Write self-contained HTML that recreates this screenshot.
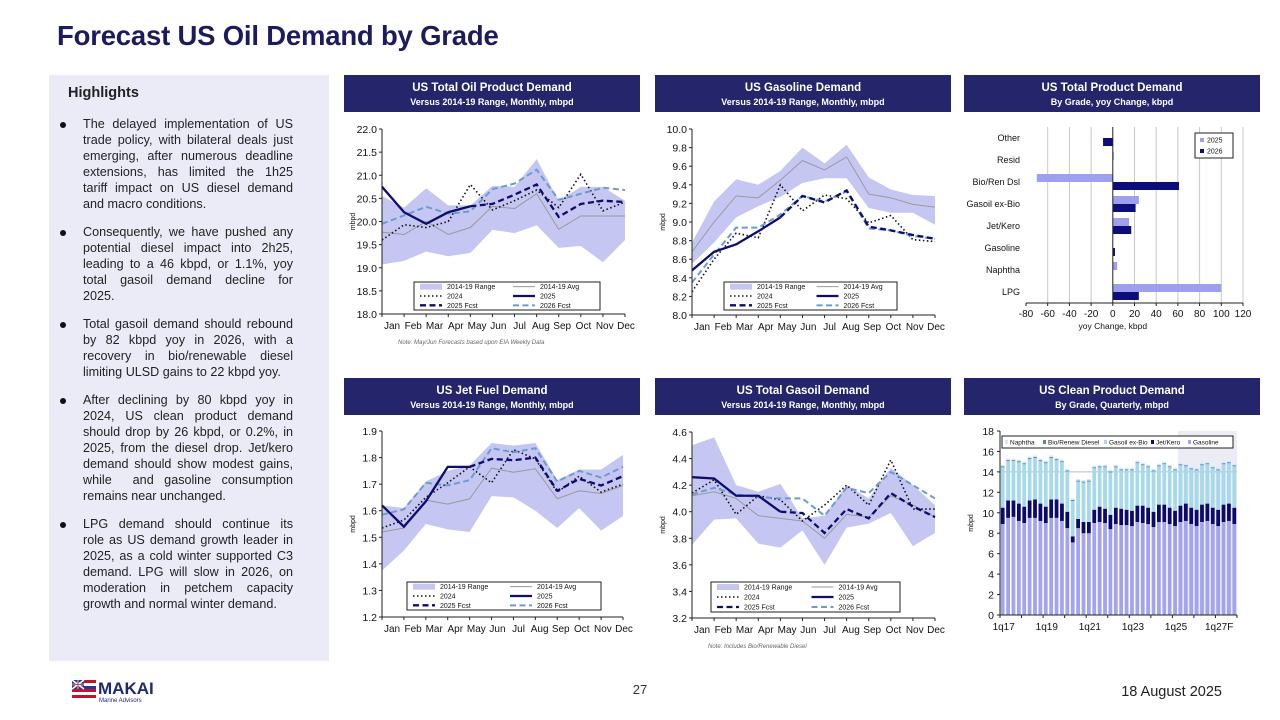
<!DOCTYPE html>
<html><head><meta charset="utf-8">
<style>
*{margin:0;padding:0;box-sizing:border-box}
body{width:1280px;height:720px;background:#fff;position:relative;overflow:hidden;font-family:"Liberation Sans",sans-serif}
#title{position:absolute;left:57px;top:20px;font-size:27.5px;font-weight:bold;color:#1c1c5c;letter-spacing:-0.2px}
#panel{position:absolute;left:49px;top:75px;width:280px;height:586px;background:#ebebf7}
#panel h3{position:absolute;left:19px;top:10px;font-size:14.5px;font-weight:bold;color:#222}
.para{position:absolute;left:34px;width:210px;font-size:12.6px;line-height:16px;color:#222}
.para span{display:block;text-align:justify;text-align-last:justify;white-space:nowrap;overflow:visible}
.para span.l{text-align-last:left}
.para:before{content:"";position:absolute;left:-23px;top:6px;width:6px;height:6px;border-radius:50%;background:#111}
.hdr{position:absolute;width:296px;height:37px;background:#25256b;color:#fff;text-align:center}
.hdr .t{font-size:11.5px;font-weight:bold;margin-top:7px}
.hdr .s{font-size:9px;font-weight:bold;margin-top:3px}
#svg{position:absolute;left:0;top:0}
</style></head><body>
<div id="title">Forecast US Oil Demand by Grade</div>
<div id="panel">
<h3>Highlights</h3>
<div class="para" style="top:41px"><span>The delayed implementation of US</span><span>trade policy, with bilateral deals just</span><span>emerging, after numerous deadline</span><span>extensions, has limited the 1h25</span><span>tariff impact on US diesel demand</span><span class="l">and macro conditions.</span></div>
<div class="para" style="top:149px"><span>Consequently, we have pushed any</span><span>potential diesel impact into 2h25,</span><span>leading to a 46 kbpd, or 1.1%, yoy</span><span>total gasoil demand decline for</span><span class="l">2025.</span></div>
<div class="para" style="top:241px"><span>Total gasoil demand should rebound</span><span>by 82 kbpd yoy in 2026, with a</span><span>recovery in bio/renewable diesel</span><span class="l">limiting ULSD gains to 22 kbpd yoy.</span></div>
<div class="para" style="top:317px"><span>After declining by 80 kbpd yoy in</span><span>2024, US clean product demand</span><span>should drop by 26 kbpd, or 0.2%, in</span><span>2025, from the diesel drop. Jet/kero</span><span>demand should show modest gains,</span><span>while &nbsp;and gasoline consumption</span><span class="l">remains near unchanged.</span></div>
<div class="para" style="top:441px"><span>LPG demand should continue its</span><span>role as US demand growth leader in</span><span>2025, as a cold winter supported C3</span><span>demand. LPG will slow in 2026, on</span><span>moderation in petchem capacity</span><span class="l">growth and normal winter demand.</span></div>
</div>

<div class="hdr" style="left:344px;top:75px"><div class="t">US Total Oil Product Demand</div><div class="s">Versus 2014-19 Range, Monthly, mbpd</div></div>
<div class="hdr" style="left:655px;top:75px"><div class="t">US Gasoline Demand</div><div class="s">Versus 2014-19 Range, Monthly, mbpd</div></div>
<div class="hdr" style="left:964px;top:75px"><div class="t">US Total Product Demand</div><div class="s">By Grade, yoy Change, kbpd</div></div>
<div class="hdr" style="left:344px;top:378px"><div class="t">US Jet Fuel Demand</div><div class="s">Versus 2014-19 Range, Monthly, mbpd</div></div>
<div class="hdr" style="left:655px;top:378px"><div class="t">US Total Gasoil Demand</div><div class="s">Versus 2014-19 Range, Monthly, mbpd</div></div>
<div class="hdr" style="left:964px;top:378px"><div class="t">US Clean Product Demand</div><div class="s">By Grade, Quarterly, mbpd</div></div>

<svg id="svg" width="1280" height="720" xmlns="http://www.w3.org/2000/svg">
<g>
<rect x="72" y="680" width="24" height="3" fill="#c8102e"/><rect x="72" y="683" width="24" height="3" fill="#fff"/>
<rect x="72" y="686" width="24" height="3" fill="#1f3a93"/><rect x="72" y="689" width="24" height="3" fill="#c8102e"/>
<rect x="72" y="692" width="24" height="3" fill="#fff"/><rect x="72" y="695" width="24" height="3" fill="#c8102e"/>
<rect x="72" y="680" width="12" height="9" fill="#1f3a93"/><path d="M72 680L84 689M84 680L72 689M78 680V689M72 684.5H84" stroke="#fff" stroke-width="1.5"/><path d="M78 680V689M72 684.5H84" stroke="#c8102e" stroke-width="0.8"/>
<text x="98" y="694" font-size="17" font-weight="bold" fill="#1f2a6e" font-family="Liberation Sans, sans-serif">MAKAI</text>
<text x="99" y="702" font-size="6" fill="#1f2a6e" font-family="Liberation Sans, sans-serif">Marine Advisors</text>
</g>
<text x="640" y="694" font-size="13" text-anchor="middle" fill="#333" font-family="Liberation Sans, sans-serif">27</text>
<text x="1222" y="696" font-size="14.5" text-anchor="end" fill="#222" font-family="Liberation Sans, sans-serif">18 August 2025</text>
</svg>

<script>
// ---------- data ----------
const months = ["Jan","Feb","Mar","Apr","May","Jun","Jul","Aug","Sep","Oct","Nov","Dec"];
const legendLabels = ["2014-19 Range","2014-19 Avg","2024","2025","2025 Fcst","2026 Fcst"];

const totLow  = [19.07,19.15,19.35,19.25,19.32,19.82,19.75,19.92,19.43,19.47,19.12,19.6];
const totHigh = [20.55,20.3,20.72,20.35,20.35,20.77,20.75,21.35,20.45,20.75,20.75,20.45];
const totAvg  = [19.77,19.72,20.0,19.72,19.87,20.33,20.28,20.6,19.83,20.12,20.12,20.12];
const tot2024 = [19.6,19.93,19.87,20.0,20.8,20.25,20.45,20.68,20.3,21.02,20.23,20.42];
const tot2025 = [20.75,20.2,19.95,20.2,20.33,null,null,null,null,null,null,null];
const tot25F  = [null,null,null,null,20.33,20.38,20.58,20.8,20.1,20.38,20.45,20.42];
const tot26F  = [19.95,20.13,20.32,20.17,20.22,20.7,20.82,21.12,20.47,20.6,20.73,20.68];

const gasLow  = [8.55,8.78,9.05,9.17,9.27,9.42,9.47,9.47,9.15,9.1,9.1,8.97];
const gasHigh = [8.78,9.22,9.46,9.4,9.55,9.8,9.63,9.83,9.48,9.35,9.29,9.28];
const gasAvg  = [8.68,9.0,9.28,9.26,9.45,9.66,9.56,9.7,9.3,9.26,9.19,9.16];
const gas2024 = [8.25,8.6,8.88,8.83,9.4,9.12,9.29,9.25,8.99,9.07,8.81,8.79];
const gas2025 = [8.48,8.68,8.76,8.9,9.05,null,null,null,null,null,null,null];
const gas25F  = [null,null,null,null,9.05,9.28,9.21,9.34,8.95,8.91,8.86,8.82];
const gas26F  = [8.35,8.65,8.94,8.94,9.08,9.28,9.22,9.33,8.93,8.91,8.85,8.82];

const jetLow  = [1.375,1.45,1.55,1.53,1.52,1.655,1.65,1.6,1.535,1.61,1.525,1.58];
const jetHigh = [1.62,1.61,1.71,1.75,1.77,1.855,1.845,1.855,1.715,1.755,1.755,1.81];
const jetAvg  = [1.52,1.535,1.64,1.625,1.645,1.76,1.745,1.758,1.645,1.675,1.665,1.695];
const jet2024 = [1.535,1.565,1.65,1.705,1.765,1.705,1.83,1.795,1.67,1.73,1.67,1.7];
const jet2025 = [1.62,1.54,1.635,1.765,1.765,null,null,null,null,null,null,null];
const jet25F  = [null,null,null,null,1.765,1.795,1.79,1.8,1.675,1.72,1.695,1.73];
const jet26F  = [1.585,1.605,1.705,1.695,1.715,1.835,1.82,1.835,1.71,1.75,1.725,1.765];

const goLow  = [3.75,3.94,3.95,3.76,3.73,3.86,3.6,3.88,3.91,3.99,3.74,3.84];
const goHigh = [4.5,4.56,4.2,4.15,4.21,3.95,3.97,4.2,4.1,4.33,4.2,4.05];
const goAvg  = [4.12,4.15,4.1,3.97,3.95,3.93,3.8,3.98,3.96,4.12,4.05,3.96];
const go2024 = [4.14,4.24,3.98,4.12,4.09,3.93,4.05,4.2,4.05,4.39,4.02,4.02];
const go2025 = [4.26,4.25,4.12,4.12,4.0,null,null,null,null,null,null,null];
const go25F  = [null,null,null,null,4.0,3.99,3.84,4.02,3.95,4.14,4.04,3.96];
const go26F  = [4.13,4.18,4.13,4.11,4.1,4.1,3.97,4.18,4.14,4.3,4.2,4.1];

const gradeCats = ["Other","Resid","Bio/Ren Dsl","Gasoil ex-Bio","Jet/Kero","Gasoline","Naphtha","LPG"];
const grade2025 = [0,1,-70,24,15,0,4,100];
const grade2026 = [-9,0,61,21,17,2,0,24];
const gradeTicks = [-80,-60,-40,-20,0,20,40,60,80,100,120];

const quarterLabels = ["1q17","1q19","1q21","1q23","1q25","1q27F"];
const qGasoline = [8.9,9.5,9.6,9.2, 9.0,9.5,9.5,9.2, 9.0,9.5,9.5,9.2, 8.5,7.1,8.5,8.0, 8.0,9.0,9.1,9.0, 8.4,8.9,8.8,8.8, 8.7,9.1,9.0,8.9, 8.6,9.1,9.1,8.9, 8.7,9.1,9.2,8.9, 8.7,9.1,9.2,8.9, 8.7,9.1,9.2,8.9];
const qJet      = [1.6,1.7,1.6,1.7, 1.6,1.7,1.8,1.7, 1.6,1.8,1.8,1.7, 1.6,0.6,0.9,1.1, 1.1,1.3,1.5,1.4, 1.4,1.6,1.6,1.5, 1.5,1.6,1.7,1.6, 1.5,1.7,1.7,1.6, 1.5,1.6,1.7,1.6, 1.6,1.7,1.7,1.6, 1.6,1.7,1.7,1.6];
const qGasoil   = [3.95,3.85,3.85,4.05, 4.15,4.05,4.05,4.15, 4.25,4.05,3.85,4.05, 3.95,3.45,3.65,3.85, 3.95,4.05,3.85,4.05, 4.15,3.95,3.75,3.85, 3.95,4.15,3.95,3.95, 3.95,3.75,3.95,3.95, 3.95,3.95,3.65,3.75, 3.85,3.85,3.85,3.85, 3.85,3.95,3.95,4.05];
const qBio      = [0.1,0.1,0.1,0.1, 0.1,0.1,0.1,0.1, 0.1,0.1,0.1,0.1, 0.1,0.1,0.1,0.1, 0.1,0.1,0.1,0.1, 0.1,0.1,0.1,0.1, 0.1,0.1,0.1,0.1, 0.1,0.1,0.1,0.1, 0.1,0.1,0.1,0.1, 0.1,0.1,0.1,0.1, 0.1,0.1,0.1,0.1];
const qNaphtha  = [0.15,0.15,0.15,0.15, 0.15,0.15,0.15,0.15, 0.15,0.15,0.15,0.15, 0.15,0.15,0.15,0.15, 0.15,0.15,0.15,0.15, 0.15,0.15,0.15,0.15, 0.15,0.15,0.15,0.15, 0.15,0.15,0.15,0.15, 0.15,0.15,0.15,0.15, 0.15,0.15,0.15,0.15, 0.15,0.15,0.15,0.15];
const qTicks = [0,2,4,6,8,10,12,14,16,18];

// ---------- helpers ----------
const NS = "http://www.w3.org/2000/svg";
const svg = document.getElementById("svg");
const FONT = "Liberation Sans, sans-serif";
function mk(parent, tag, attrs){
  const e = document.createElementNS(NS, tag);
  for (const k in attrs) e.setAttribute(k, attrs[k]);
  parent.appendChild(e);
  return e;
}
function txt(parent, x, y, s, size, anchor, extra){
  const t = mk(parent, "text", Object.assign({x:x, y:y, "font-size":size, "text-anchor":anchor||"start", fill:"#111", "font-family":FONT}, extra||{}));
  t.textContent = s;
  return t;
}

const styles = {
  avg:{stroke:"#9a9a9a", "stroke-width":1},
  y24:{stroke:"#111", "stroke-width":1.6, "stroke-dasharray":"1.5,2.5"},
  y25:{stroke:"#0d0d6e", "stroke-width":2.3},
  f25:{stroke:"#0d0d6e", "stroke-width":2.3, "stroke-dasharray":"6,3.5"},
  f26:{stroke:"#6b9bd2", "stroke-width":2, "stroke-dasharray":"6,3.5"}
};

function lineChart(c){
  const g = mk(svg, "g", {});
  
  
  const n = months.length;
  const xs = i => c.x0 + i*(c.x1-c.x0)/(n-1);
  const ys = v => c.yb - (v-c.min)/(c.max-c.min)*(c.yb-c.yt);
  let d = "";
  c.low.forEach((v,i)=>{ d += (i?"L":"M") + xs(i) + " " + ys(c.high[i]); });
  for (let i=n-1;i>=0;i--) d += "L" + xs(i) + " " + ys(c.low[i]);
  const band = mk(g, "path", {d:d+"Z", fill:"#c6c6f3"});
  
  
  const series = [["avg",c.avg,"avg-line-2014-19"],["y24",c.y24,"line-2024"],["f26",c.f26,"line-2026-fcst"],["f25",c.f25,"line-2025-fcst"],["y25",c.y25,"line-2025"]];
  series.forEach(s=>{
    let p = "", started = false;
    s[1].forEach((v,i)=>{ if (v===null) return; p += (started?"L":"M") + xs(i) + " " + ys(v); started = true; });
    const l = mk(g, "path", Object.assign({d:p, fill:"none"}, styles[s[0]]));
    
    
  });
  const ax = mk(g, "path", {d:`M${c.x0} ${c.yt}V${c.yb}H${c.x1}`, stroke:"#222", "stroke-width":1, fill:"none"});
  
  
  for (let v=c.min; v<=c.max+1e-9; v+=c.step){
    mk(g, "line", {x1:c.x0-3, x2:c.x0, y1:ys(v), y2:ys(v), stroke:"#222"});
    const t = txt(g, c.x0-5, ys(v)+4, v.toFixed(1), 10.5, "end");
    
    
  }
  months.forEach((m,i)=>{
    mk(g, "line", {x1:xs(i), x2:xs(i), y1:c.yb, y2:c.yb+3, stroke:"#222"});
    const lx = c.x0 + 10 + i*(c.x1-c.x0-9)/(n-1);
    const t = txt(g, lx, c.yb+15, m, 10, "middle");
    
    
  });
  const yl = txt(g, 0, 0, "mbpd", 7, "middle", {transform:`translate(${c.x0-27},${(c.yt+c.yb)/2}) rotate(-90)`});
  
  
  if (c.note){
    const nt = txt(g, c.x0+16, c.yb+30, c.note, 6, "start", {"font-style":"italic", fill:"#666"});
    
    
  }
  const L = c.leg;
  const lg = mk(g, "g", {});
  
  
  mk(lg, "rect", {x:L[0], y:L[1], width:L[2]-L[0], height:L[3]-L[1], fill:"#fff", stroke:"#222", "stroke-width":1});
  const keys = ["band","avg","y24","y25","f25","f26"];
  const half = (L[2]-L[0])/2, rh = (L[3]-L[1])/3;
  keys.forEach((k,i)=>{
    const col = i%2, row = Math.floor(i/2);
    const sx = L[0] + 6 + col*half, sy = L[1] + rh*(row+0.5);
    if (k==="band") mk(lg, "rect", {x:sx, y:sy-3, width:22, height:6, fill:"#c6c6f3"});
    else mk(lg, "line", Object.assign({x1:sx, x2:sx+22, y1:sy, y2:sy}, styles[k]));
    const t = txt(lg, sx+27, sy+2.5, legendLabels[i], 7, "start");
    
    
  });
}

lineChart({name:"chart-total-oil", x0:382, x1:625, yt:129, yb:314, min:18, max:22, step:0.5,
  low:totLow, high:totHigh, avg:totAvg, y24:tot2024, y25:tot2025, f25:tot25F, f26:tot26F,
  leg:[414,282,600,310], note:"Note: May/Jun Forecasts based upon EIA Weekly Data"});
lineChart({name:"chart-gasoline", x0:692, x1:935, yt:129, yb:315, min:8, max:10, step:0.2,
  low:gasLow, high:gasHigh, avg:gasAvg, y24:gas2024, y25:gas2025, f25:gas25F, f26:gas26F,
  leg:[724,282,897,310]});
lineChart({name:"chart-jet-fuel", x0:382, x1:623, yt:431, yb:617, min:1.2, max:1.9, step:0.1,
  low:jetLow, high:jetHigh, avg:jetAvg, y24:jet2024, y25:jet2025, f25:jet25F, f26:jet26F,
  leg:[407,582,601,610]});
lineChart({name:"chart-gasoil", x0:692, x1:935, yt:432, yb:618, min:3.2, max:4.6, step:0.2,
  low:goLow, high:goHigh, avg:goAvg, y24:go2024, y25:go2025, f25:go25F, f26:go26F,
  leg:[711,582,900,612], note:"Note: Includes Bio/Renewable Diesel"});

// ---------- horizontal bar chart ----------
(function(){
  const g = mk(svg, "g", {});
  
  
  const x0 = 1026, x1 = 1243, yt = 127, yb = 303, mn = -80, mx = 120;
  const xs = v => x0 + (v-mn)/(mx-mn)*(x1-x0);
  const slot = (yb-yt)/gradeCats.length;
  gradeTicks.forEach(v=>{
    if (v!==0 && v!==mn) mk(g, "line", {x1:xs(v), x2:xs(v), y1:yt, y2:yb, stroke:"#c8c8c8"});
    mk(g, "line", {x1:xs(v), x2:xs(v), y1:yb, y2:yb+3, stroke:"#222"});
    const t = txt(g, xs(v), yb+14, String(v), 10, "middle");
    
    
  });
  gradeCats.forEach((c,i)=>{
    const cy = yt + slot*(i+0.5);
    const t = txt(g, 1020, cy+3, c, 9, "end");
    
    
    const v1 = grade2025[i], v2 = grade2026[i];
    const b1 = mk(g, "rect", {x:Math.min(xs(0),xs(v1)), y:cy-8, width:Math.abs(xs(v1)-xs(0)), height:8, fill:"#9f9ff0"});
    
    
    const b2 = mk(g, "rect", {x:Math.min(xs(0),xs(v2)), y:cy, width:Math.abs(xs(v2)-xs(0)), height:8, fill:"#0d0d7a"});
    
    
  });
  mk(g, "line", {x1:xs(0), x2:xs(0), y1:yt, y2:yb, stroke:"#222"});
  mk(g, "line", {x1:x0, x2:x1, y1:yb, y2:yb, stroke:"#222"});
  const xt = txt(g, xs(0), yb+26, "yoy Change, kbpd", 8.5, "middle");
  
  
  const lg = mk(g, "g", {});
  
  
  mk(lg, "rect", {x:1195, y:133, width:38, height:25, fill:"#fff", stroke:"#222"});
  mk(lg, "rect", {x:1200, y:138, width:4, height:4, fill:"#9f9ff0"});
  mk(lg, "rect", {x:1200, y:149, width:4, height:4, fill:"#0d0d7a"});
  const l1 = txt(lg, 1207, 142.5, "2025", 7, "start");
  
  
  const l2 = txt(lg, 1207, 153.5, "2026", 7, "start");
  
  
})();

// ---------- stacked quarterly bars ----------
(function(){
  const g = mk(svg, "g", {});
  
  
  const x0 = 1000, x1 = 1237, yt = 431, yb = 615, mx = 18;
  const n = qGasoline.length, slot = (x1-x0)/n;
  const ys = v => yb - v/mx*(yb-yt);
  mk(g, "rect", {x:x0+slot*33, y:yt, width:x1-x0-slot*33, height:yb-yt, fill:"#ececf5"});
  mk(g, "line", {x1:x0, x2:x1, y1:ys(14), y2:ys(14), stroke:"#bbb"});
  const cols = ["#a3a3f0","#0a0a6e","#a6d9e9","#5a80c8","#d3e9f4"];
  const names = ["gasoline","jet-kero","gasoil-ex-bio","bio-renew-diesel","naphtha"];
  for (let i=0;i<n;i++){
    const vals = [qGasoline[i], qJet[i], qGasoil[i], qBio[i], qNaphtha[i]];
    let acc = 0;
    vals.forEach((v,k)=>{
      const r = mk(g, "rect", {x:x0+slot*i+0.8, y:ys(acc+v), width:slot-1.6, height:ys(acc)-ys(acc+v), fill:cols[k]});
      
      
      acc += v;
    });
  }
  mk(g, "path", {d:`M${x0} ${yt}V${yb}H${x1}`, stroke:"#222", fill:"none"});
  qTicks.forEach(v=>{
    mk(g, "line", {x1:x0-3, x2:x0, y1:ys(v), y2:ys(v), stroke:"#222"});
    const t = txt(g, x0-6, ys(v)+4, String(v), 10.5, "end");
    
    
  });
  for (let i=0;i<=n;i+=4) mk(g, "line", {x1:x0+slot*i, x2:x0+slot*i, y1:yb, y2:yb+3, stroke:"#222"});
  quarterLabels.forEach((s,j)=>{
    const t = txt(g, x0+slot*(j*8+0.5)+1, yb+15, s, 10, "middle");
    
    
  });
  const yl = txt(g, 0, 0, "mbpd", 7, "middle", {transform:`translate(${x0-27},${(yt+yb)/2}) rotate(-90)`});
  
  
  const lg = mk(g, "g", {});
  
  
  mk(lg, "rect", {x:1002, y:436, width:231, height:12, fill:"#fff", stroke:"#222"});
  const legNames = ["Naphtha","Bio/Renew Diesel","Gasoil ex-Bio","Jet/Kero","Gasoline"];
  const legCols = ["#d3e9f4","#5a80c8","#a6d9e9","#0a0a6e","#a3a3f0"];
  const legX = [1005,1043,1104,1151,1188];
  legNames.forEach((s,k)=>{
    mk(lg, "rect", {x:legX[k], y:440, width:3, height:4, fill:legCols[k]});
    const t = txt(lg, legX[k]+5, 444.5, s, 6.5, "start");
    
    
  });
})();
</script>
</body></html>
